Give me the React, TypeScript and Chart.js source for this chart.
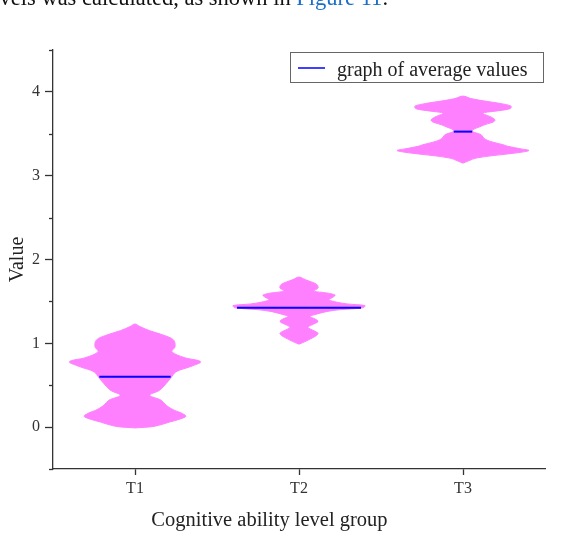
import { useEffect, useRef } from 'react';
import { Chart, registerables } from 'chart.js';

Chart.register(...registerables);

const categories = ['T1', 'T2', 'T3'];
const meanValues = [0.6, 1.424, 3.526];
const yMajorTicks = [0, 1, 2, 3, 4];
const yMinorTicks = [-0.5, 0.5, 1.5, 2.5, 3.5, 4.5];
const xTitle = 'Cognitive ability level group';
const yTitle = 'Value';
const legendLabel = 'graph of average values';

// density profiles: value levels and half-widths (in category units)
const t1Levels = [-0.01, 0.01, 0.06, 0.10, 0.13, 0.17, 0.20, 0.26, 0.32, 0.38, 0.44, 0.52, 0.59, 0.66, 0.72, 0.78, 0.83, 0.90, 0.96, 1.04, 1.10, 1.15, 1.20, 1.23];
const t1Density = [0, 0.12, 0.21, 0.28, 0.31, 0.28, 0.24, 0.19, 0.16, 0.09, 0.15, 0.19, 0.22, 0.25, 0.335, 0.40, 0.30, 0.225, 0.244, 0.235, 0.17, 0.09, 0.03, 0];

const t2Levels = [0.99, 1.02, 1.05, 1.09, 1.12, 1.15, 1.19, 1.22, 1.26, 1.29, 1.32, 1.35, 1.38, 1.40, 1.424, 1.45, 1.47, 1.49, 1.52, 1.55, 1.575, 1.60, 1.625, 1.66, 1.70, 1.73, 1.76, 1.79];
const t2Density = [0, 0.037, 0.067, 0.104, 0.116, 0.091, 0.055, 0.079, 0.116, 0.098, 0.067, 0.110, 0.171, 0.244, 0.390, 0.402, 0.293, 0.232, 0.183, 0.207, 0.220, 0.171, 0.091, 0.116, 0.110, 0.079, 0.037, 0];

const t3Levels = [3.15, 3.18, 3.21, 3.24, 3.27, 3.30, 3.32, 3.35, 3.37, 3.40, 3.43, 3.46, 3.49, 3.526, 3.55, 3.58, 3.61, 3.64, 3.665, 3.70, 3.745, 3.77, 3.80, 3.83, 3.86, 3.89, 3.92, 3.95];
const t3Density = [0, 0.037, 0.079, 0.183, 0.317, 0.402, 0.354, 0.274, 0.244, 0.183, 0.140, 0.122, 0.110, 0.058, 0.061, 0.098, 0.134, 0.183, 0.195, 0.171, 0.122, 0.195, 0.287, 0.293, 0.232, 0.134, 0.049, 0];

const profiles = [
  { levels: t1Levels, density: t1Density },
  { levels: t2Levels, density: t2Density },
  { levels: t3Levels, density: t3Density },
];

const FONT = "'Liberation Serif', 'Times New Roman', serif";
const VIOLIN = '#ff80ff';
const MEAN = '#0000ff';
const AXIS = '#333333';
const TEXT = '#222222';

function interp(levels: number[], dens: number[], v: number) {
  for (let i = 0; i < levels.length - 1; i++) {
    if (v >= levels[i] && v <= levels[i + 1]) {
      const t = (v - levels[i]) / (levels[i + 1] - levels[i]);
      return dens[i] + t * (dens[i + 1] - dens[i]);
    }
  }
  return 0;
}

export default function App() {
  const ref = useRef<HTMLCanvasElement | null>(null);

  useEffect(() => {
    if (!ref.current) return;
    const datasets: any[] = [];
    profiles.forEach((p, i) => {
      const c = i + 1;
      const right = p.levels.map((lv, k) => ({ x: c + p.density[k], y: lv }));
      const left = p.levels.map((lv, k) => ({ x: c - p.density[k], y: lv })).reverse();
      datasets.push({
        type: 'line',
        data: [...right, ...left.slice(1)],
        borderColor: VIOLIN,
        backgroundColor: VIOLIN,
        borderWidth: 1,
        pointRadius: 0,
        tension: 0.35,
        fill: 'shape',
        order: 2,
      });
    });
    meanValues.forEach((m, i) => {
      const c = i + 1;
      const w = interp(profiles[i].levels, profiles[i].density, m) * 0.97;
      datasets.push({
        type: 'line',
        data: [{ x: c - w, y: m }, { x: c + w, y: m }],
        borderColor: MEAN,
        borderWidth: 2,
        pointRadius: 0,
        fill: false,
        order: 1,
      });
    });

    const decor = {
      id: 'decor',
      afterDraw(chart: any) {
        const ctx = chart.ctx;
        const ys = chart.scales.y;
        const area = chart.chartArea;
        ctx.save();
        // minor ticks
        ctx.strokeStyle = AXIS;
        ctx.lineWidth = 1.3;
        yMinorTicks.forEach((v) => {
          const py = Math.round(ys.getPixelForValue(v)) + 0.5;
          ctx.beginPath();
          ctx.moveTo(area.left - 4, py);
          ctx.lineTo(area.left, py);
          ctx.stroke();
        });
        // x title
        ctx.fillStyle = TEXT;
        ctx.font = `20.5px ${FONT}`;
        ctx.textAlign = 'center';
        ctx.textBaseline = 'alphabetic';
        ctx.fillText(xTitle, area.left + area.width * 0.44, 526);
        // legend
        const lx = area.right - 255;
        const ly = area.top + 3;
        ctx.strokeStyle = '#666666';
        ctx.lineWidth = 1;
        ctx.strokeRect(lx + 0.5, ly - 0.5, 253, 30);
        ctx.strokeStyle = MEAN;
        ctx.lineWidth = 1.5;
        ctx.beginPath();
        ctx.moveTo(lx + 8, ly + 15);
        ctx.lineTo(lx + 35, ly + 15);
        ctx.stroke();
        ctx.fillStyle = TEXT;
        ctx.font = `20px ${FONT}`;
        ctx.textAlign = 'left';
        ctx.fillText(legendLabel, lx + 47, ly + 23);
        ctx.restore();
      },
    };

    const chart = new Chart(ref.current, {
      type: 'line',
      data: { datasets },
      options: {
        responsive: false,
        animation: false,
        layout: { padding: { left: 0, right: 37, top: 50, bottom: 0 } },
        plugins: { legend: { display: false }, tooltip: { enabled: false } },
        scales: {
          x: {
            type: 'linear',
            min: 0.5,
            max: 3.5,
            afterBuildTicks: (s: any) => {
              s.ticks = categories.map((_, i) => ({ value: i + 1 }));
            },
            afterFit: (s: any) => {
              s.height = 65;
            },
            ticks: {
              callback: (v: any) => categories[Number(v) - 1] ?? '',
              font: { family: FONT, size: 16 },
              color: AXIS,
              padding: 4,
              maxRotation: 0,
            },
            grid: { drawOnChartArea: false, tickLength: 6, color: AXIS, tickWidth: 1.3 },
            border: { color: AXIS, width: 1.3 },
          },
          y: {
            type: 'linear',
            min: -0.5,
            max: 4.5,
            afterBuildTicks: (s: any) => {
              s.ticks = yMajorTicks.map((v) => ({ value: v }));
            },
            afterFit: (s: any) => {
              s.width = 53;
            },
            ticks: {
              callback: (v: any) => String(v),
              font: { family: FONT, size: 16 },
              color: AXIS,
              padding: 5,
            },
            grid: { drawOnChartArea: false, tickLength: 8, color: AXIS, tickWidth: 1.3 },
            border: { color: AXIS, width: 1.3 },
            title: {
              display: true,
              text: yTitle,
              font: { family: FONT, size: 20 },
              color: TEXT,
              padding: { top: 6, bottom: 0 },
            },
          },
        },
      } as any,
      plugins: [decor],
    });
    return () => chart.destroy();
  }, []);

  return (
    <div style={{ position: 'fixed', left: 0, top: 0, width: 582, height: 534, background: '#fff', overflow: 'hidden' }}>
      <canvas ref={ref} width={582} height={534} style={{ position: 'absolute', left: 0, top: 0 }} />
      <div
        style={{
          position: 'absolute',
          right: 582 - 388,
          top: -13,
          fontFamily: FONT,
          fontSize: 22.5,
          lineHeight: '22.5px',
          whiteSpace: 'nowrap',
          color: '#111',
        }}
      >
        levels was calculated, as shown in <span style={{ color: '#1a6fc9' }}>Figure 11</span>.
      </div>
    </div>
  );
}
